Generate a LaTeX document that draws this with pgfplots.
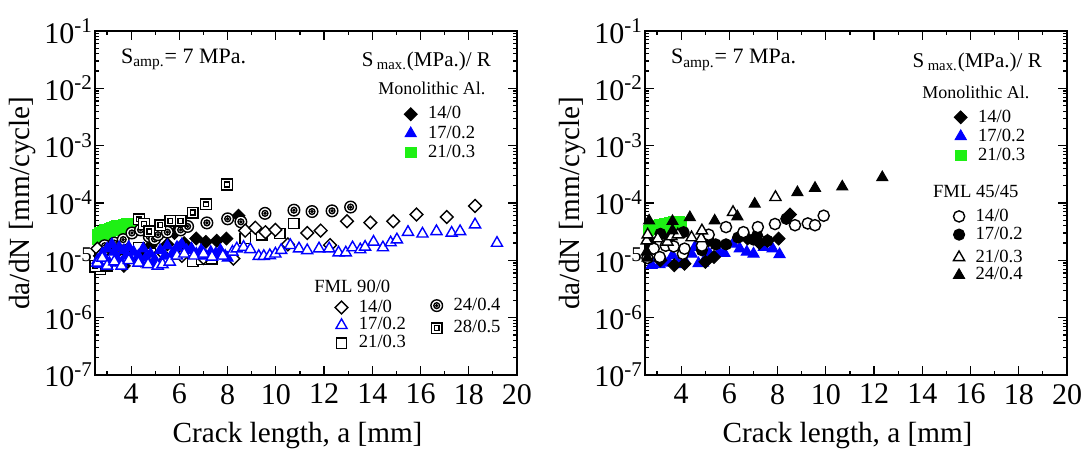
\documentclass[border=0pt]{standalone}
\usepackage{fontspec}
\setmainfont{Liberation Serif}
\usepackage{pgfplots}
\pgfplotsset{compat=1.18}
\definecolor{mgreen}{RGB}{30,240,20}

\pgfdeclareplotmark{dia}{%
 \pgfpathmoveto{\pgfqpoint{0pt}{\pgfplotmarksize}}%
 \pgfpathlineto{\pgfqpoint{\pgfplotmarksize}{0pt}}%
 \pgfpathlineto{\pgfqpoint{0pt}{-\pgfplotmarksize}}%
 \pgfpathlineto{\pgfqpoint{-\pgfplotmarksize}{0pt}}%
 \pgfpathclose\pgfusepathqfillstroke}
\pgfdeclareplotmark{dotcirc}{%
 \pgfpathcircle{\pgfpointorigin}{\pgfplotmarksize}\pgfusepathqfillstroke
 \pgfpathcircle{\pgfpointorigin}{0.5\pgfplotmarksize}\pgfusepathqstroke
 \pgfpathcircle{\pgfpointorigin}{0.15\pgfplotmarksize}\pgfusepathqstroke}
\pgfdeclareplotmark{dotsq}{%
 \pgfpathrectangle{\pgfqpoint{-\pgfplotmarksize}{-\pgfplotmarksize}}{\pgfqpoint{2\pgfplotmarksize}{2\pgfplotmarksize}}\pgfusepathqfillstroke
 \pgfpathrectangle{\pgfqpoint{-0.45\pgfplotmarksize}{-0.45\pgfplotmarksize}}{\pgfqpoint{0.9\pgfplotmarksize}{0.9\pgfplotmarksize}}\pgfusepathqstroke}

\pgfplotsset{
 mono14/.style={only marks, mark=dia, mark size=3.2pt, mark options={line width=0.5pt, draw=black, fill=black}},
 mono17/.style={only marks, mark=triangle*, mark size=3.2pt, mark options={draw=blue, fill=blue, line width=0.5pt}},
 mono21/.style={only marks, mark=square*, mark size=2.6pt, mark options={draw=mgreen, fill=mgreen, line width=0.4pt}},
 fml14/.style={only marks, mark=dia, mark size=3.2pt, mark options={draw=black, fill=white, line width=0.7pt}},
 fml17/.style={only marks, mark=triangle*, mark size=3.2pt, mark options={draw=blue, fill=white, line width=0.7pt}},
 fml21/.style={only marks, mark=square*, mark size=2.6pt, mark options={draw=black, fill=white, line width=0.7pt}},
 fml24/.style={only marks, mark=dotcirc, mark size=2.9pt, mark options={draw=black, fill=white, line width=0.7pt}},
 fml28/.style={only marks, mark=dotsq, mark size=2.7pt, mark options={draw=black, fill=white, line width=0.7pt}},
 c14/.style={only marks, mark=*, mark size=2.8pt, mark options={draw=black, fill=white, line width=0.7pt}},
 c17/.style={only marks, mark=*, mark size=2.8pt, mark options={draw=black, fill=black, line width=0.5pt}},
 t21/.style={only marks, mark=triangle*, mark size=3.2pt, mark options={draw=black, fill=white, line width=0.7pt}},
 t24/.style={only marks, mark=triangle*, mark size=3.2pt, mark options={draw=black, fill=black, line width=0.5pt}},
}

\begin{document}
\begin{tikzpicture}
\useasboundingbox (-47.5pt,-37.5pt) rectangle (498.5pt,187.5pt);

% ================= LEFT PANEL =================
\begin{axis}[at={(0pt,0pt)}, anchor=south west,
  width=211pt, height=172pt, scale only axis,
  xmin=2.5, xmax=20, ymode=log, ymin=1e-7, ymax=1e-1,
  xtick={4,6,...,20}, xticklabels={4,6,8,10,12,14,16,18,20},
  minor xtick={3,5,...,19},
  ytick={1e-7,1e-6,1e-5,1e-4,1e-3,1e-2,1e-1},
  yticklabels={10\textsuperscript{-7},10\textsuperscript{-6},10\textsuperscript{-5},10\textsuperscript{-4},10\textsuperscript{-3},10\textsuperscript{-2},10\textsuperscript{-1}},
  minor ytick={2e-7,3e-7,4e-7,5e-7,6e-7,7e-7,8e-7,9e-7,2e-6,3e-6,4e-6,5e-6,6e-6,7e-6,8e-6,9e-6,2e-5,3e-5,4e-5,5e-5,6e-5,7e-5,8e-5,9e-5,2e-4,3e-4,4e-4,5e-4,6e-4,7e-4,8e-4,9e-4,2e-3,3e-3,4e-3,5e-3,6e-3,7e-3,8e-3,9e-3,2e-2,3e-2,4e-2,5e-2,6e-2,7e-2,8e-2,9e-2},
  xtick pos=both, ytick pos=both, tick align=inside,
  major tick length=4.5pt, minor tick length=2.2pt,
  tick style={black, line width=0.6pt},
  axis line style={line width=0.7pt},
  tick label style={font=\fontsize{15}{17}\selectfont},
  xticklabel style={yshift=-1pt},
  yticklabel style={xshift=2.5pt},
  xlabel={Crack length, a [mm]},
  ylabel={da/dN [mm/cycle]},
  xlabel style={font=\fontsize{14.6}{17}\selectfont, at={(axis description cs:0.48,-0.177)}, anchor=center},
  ylabel style={font=\fontsize{14.6}{17}\selectfont, at={(axis description cs:-0.172,0.5)}, anchor=center},
  legend cell align=left,
  legend style={draw=none, fill=none, inner sep=0pt, outer sep=0pt, anchor=north west,
   font=\fontsize{9.3}{10}\selectfont, at={(rel axis cs:0.733,0.785)}, row sep=0.3pt,
   /tikz/every odd column/.append style={column sep=5pt},
   nodes={inner sep=0.5pt, text height=6.5pt, text depth=1.8pt}}]
\addplot[mono21, forget plot] coordinates {
(2.6,2.3e-5)(2.62,2.8e-5)(2.7,3.0e-5)(2.75,2.5e-5)(2.8,3.2e-5)(2.85,2.7e-5)(2.9,3.4e-5)(2.95,2.9e-5)
(3.0,3.5e-5)(3.05,3.1e-5)(3.1,3.6e-5)(3.15,3.2e-5)(3.2,3.8e-5)(3.25,3.4e-5)(3.3,3.9e-5)(3.35,3.5e-5)
(3.4,4.0e-5)(3.45,3.6e-5)(3.5,4.05e-5)(3.55,3.7e-5)(3.6,4.1e-5)(3.65,3.8e-5)(3.7,4.2e-5)(3.75,3.9e-5)
(3.8,4.3e-5)(3.85,4.0e-5)(3.9,4.3e-5)(3.95,4.1e-5)(4.0,4.4e-5)(4.05,4.2e-5)};
\addplot[mono14, forget plot] coordinates {
(2.7,1.2e-5)(2.9,1.5e-5)(3.1,1.2e-5)(3.3,1.6e-5)(3.5,1.0e-5)(3.7,8e-6)(3.9,1.3e-5)(4.2,1.1e-5)
(4.5,1.4e-5)(4.8,1.8e-5)(5.0,1.1e-5)(5.3,1.2e-5)(5.5,1.9e-5)(5.8,3.0e-5)(6.2,2.0e-5)(6.7,2.4e-5)
(7.1,2.1e-5)(7.55,2.2e-5)(7.95,2.4e-5)(8.45,6.0e-5)};
\addplot[fml21, forget plot] coordinates {
(2.51,7.5e-6)(2.73,7.0e-6)(3.0,8e-6)(3.4,1.0e-5)(3.8,1.2e-5)(4.32,1.65e-5)(4.8,1.3e-5)(5.3,1.1e-5)
(6.0,1.3e-5)(6.56,9.7e-6)(6.92,1.04e-5)(7.35,1.07e-5)(8.73,2.4e-5)(9.41,2.8e-5)(10.17,2.95e-5)(10.75,4.4e-5)};
\addplot[fml24, forget plot] coordinates {
(2.9,1.8e-5)(3.3,2.0e-5)(3.67,2.3e-5)(4.03,3.0e-5)(4.39,3.4e-5)(4.75,2.6e-5)(4.97,2.35e-5)(5.11,2.8e-5)
(5.5,3.1e-5)(6.05,3.4e-5)(6.34,3.9e-5)(7.14,4.5e-5)(8.0,5.3e-5)(8.55,4.7e-5)(9.55,6.6e-5)(10.75,7.5e-5)
(11.5,7.1e-5)(12.33,7.3e-5)(13.1,8.5e-5)};
\addplot[fml28, forget plot] coordinates {
(2.51,8e-6)(4.32,5.2e-5)(4.53,4.3e-5)(4.75,3.2e-5)(5.21,4.1e-5)(5.62,4.9e-5)(6.05,4.9e-5)(6.55,6.8e-5)
(7.1,9.5e-5)(7.97,2.1e-4)};
\addplot[fml14, forget plot] coordinates {
(2.6,1.6e-5)(2.8,1.3e-5)(3.2,1.1e-5)(3.6,1.0e-5)(4.0,1.2e-5)(4.4,1.0e-5)(5.0,1.1e-5)(6.1,1.2e-5)
(7.0,1.1e-5)(8.24,1.07e-5)(8.73,3.3e-5)(9.15,3.7e-5)(9.57,3.1e-5)(9.98,3.4e-5)(10.5,1.9e-5)(11.3,3.0e-5)
(11.86,3.3e-5)(12.25,1.85e-5)(12.95,4.8e-5)(13.92,4.55e-5)(14.87,4.8e-5)(15.83,6.3e-5)(17.09,5.7e-5)(18.26,8.9e-5)};
\addplot[mono17, forget plot] coordinates {
(2.6,1.0e-5)(2.7,8.5e-6)(2.8,1.3e-5)(2.9,1.1e-5)(3.0,1.6e-5)(3.1,9e-6)(3.2,1.9e-5)(3.3,1.4e-5)
(3.4,1.1e-5)(3.5,1.7e-5)(3.6,9e-6)(3.7,1.5e-5)(3.8,1.2e-5)(3.9,1.7e-5)(4.0,1.0e-5)(4.1,1.4e-5)
(4.3,1.2e-5)(4.4,9e-6)(4.5,1.6e-5)(4.6,1.1e-5)(4.8,1.3e-5)(4.9,9e-6)(5.0,1.0e-5)(5.2,1.5e-5)
(5.4,1.2e-5)(5.5,1.8e-5)(5.7,1.3e-5)(5.9,1.7e-5)(6.1,1.9e-5)(6.3,1.5e-5)(6.5,1.6e-5)(6.7,1.3e-5)
(6.9,1.5e-5)(7.1,1.2e-5)(7.3,1.4e-5)(7.5,1.3e-5)(7.7,1.5e-5)(7.9,1.2e-5)(8.0,1.1e-5)};
\addplot[fml17, forget plot] coordinates {
(2.6,9e-6)(2.8,1.1e-5)(3.0,8e-6)(3.3,9.5e-6)(3.6,8e-6)(3.9,1.0e-5)(4.3,9e-6)(4.7,8.5e-6)
(5.1,8e-6)(5.3,8.5e-6)(5.6,9.4e-6)(5.9,1.2e-5)(6.2,1.3e-5)(6.6,1.2e-5)(7.0,1.3e-5)(7.35,1.15e-5)
(7.8,1.2e-5)(8.2,1.4e-5)(8.38,1.6e-5)(8.66,1.7e-5)(8.94,1.55e-5)(9.29,1.18e-5)(9.5,1.18e-5)(9.75,1.22e-5)
(9.98,1.3e-5)(10.22,1.5e-5)(10.6,1.83e-5)(10.96,1.6e-5)(11.3,1.49e-5)(11.79,1.6e-5)(12.21,1.6e-5)(12.6,1.36e-5)
(12.9,1.36e-5)(13.18,1.67e-5)(13.5,1.54e-5)(13.7,1.71e-5)(14.05,2.09e-5)(14.44,1.67e-5)(14.76,2.04e-5)(15.02,2.3e-5)
(15.48,3.1e-5)(16.08,2.9e-5)(16.66,3.2e-5)(17.29,3.0e-5)(17.64,3.2e-5)(18.26,4.2e-5)(19.17,2.0e-5)};
\addlegendimage{mono14}\addlegendentry{14/0}
\addlegendimage{mono17}\addlegendentry{17/0.2}
\addlegendimage{mono21}\addlegendentry{21/0.3}
\node[anchor=west, font=\fontsize{11}{13}\selectfont] at (rel axis cs:0.045,0.917) {S\textsubscript{amp.}= 7 MPa.};
\node[anchor=east, font=\fontsize{10.5}{12}\selectfont] at (rel axis cs:0.955,0.912) {S\,\textsubscript{max.}(MPa.)/ R};
\node[anchor=center, font=\fontsize{9}{10}\selectfont] at (rel axis cs:0.798,0.834) {Monolithic Al.};
\node[anchor=west, font=\fontsize{9.3}{10}\selectfont] at (rel axis cs:0.503,0.259) {FML 90/0};
\end{axis}
\begin{axis}[at={(0pt,0pt)}, anchor=south west, width=211pt, height=172pt, scale only axis, hide axis,
  xmin=0, xmax=1, ymin=0, ymax=1, legend cell align=left,
  legend style={draw=none, fill=none, inner sep=0pt, outer sep=0pt, anchor=north west,
   font=\fontsize{9.3}{10}\selectfont, at={(rel axis cs:0.569,0.2233)}, row sep=-0.4pt,
   /tikz/every odd column/.append style={column sep=5pt},
   nodes={inner sep=0.5pt, text height=6.5pt, text depth=1.8pt}}]
\addlegendimage{fml14}\addlegendentry{14/0}
\addlegendimage{fml17}\addlegendentry{17/0.2}
\addlegendimage{fml21}\addlegendentry{21/0.3}
\end{axis}
\begin{axis}[at={(0pt,0pt)}, anchor=south west, width=211pt, height=172pt, scale only axis, hide axis,
  xmin=0, xmax=1, ymin=0, ymax=1, legend cell align=left,
  legend style={draw=none, fill=none, inner sep=0pt, outer sep=0pt, anchor=north west,
   font=\fontsize{9.3}{10}\selectfont, at={(rel axis cs:0.796,0.2287)}, row sep=2pt,
   /tikz/every odd column/.append style={column sep=5pt},
   nodes={inner sep=0.5pt, text height=6.5pt, text depth=1.8pt}}]
\addlegendimage{fml24}\addlegendentry{24/0.4}
\addlegendimage{fml28}\addlegendentry{28/0.5}
\end{axis}

% ================= RIGHT PANEL =================
\begin{axis}[at={(275pt,0pt)}, anchor=south west,
  width=211pt, height=172pt, scale only axis,
  xmin=2.5, xmax=20, ymode=log, ymin=1e-7, ymax=1e-1,
  xtick={4,6,...,20}, xticklabels={4,6,8,10,12,14,16,18,20},
  minor xtick={3,5,...,19},
  ytick={1e-7,1e-6,1e-5,1e-4,1e-3,1e-2,1e-1},
  yticklabels={10\textsuperscript{-7},10\textsuperscript{-6},10\textsuperscript{-5},10\textsuperscript{-4},10\textsuperscript{-3},10\textsuperscript{-2},10\textsuperscript{-1}},
  minor ytick={2e-7,3e-7,4e-7,5e-7,6e-7,7e-7,8e-7,9e-7,2e-6,3e-6,4e-6,5e-6,6e-6,7e-6,8e-6,9e-6,2e-5,3e-5,4e-5,5e-5,6e-5,7e-5,8e-5,9e-5,2e-4,3e-4,4e-4,5e-4,6e-4,7e-4,8e-4,9e-4,2e-3,3e-3,4e-3,5e-3,6e-3,7e-3,8e-3,9e-3,2e-2,3e-2,4e-2,5e-2,6e-2,7e-2,8e-2,9e-2},
  xtick pos=both, ytick pos=both, tick align=inside,
  major tick length=4.5pt, minor tick length=2.2pt,
  tick style={black, line width=0.6pt},
  axis line style={line width=0.7pt},
  tick label style={font=\fontsize{15}{17}\selectfont},
  xticklabel style={yshift=-1pt},
  yticklabel style={xshift=2.5pt},
  xlabel={Crack length, a [mm]},
  ylabel={da/dN [mm/cycle]},
  xlabel style={font=\fontsize{14.6}{17}\selectfont, at={(axis description cs:0.48,-0.177)}, anchor=center},
  ylabel style={font=\fontsize{14.6}{17}\selectfont, at={(axis description cs:-0.172,0.5)}, anchor=center},
  legend cell align=left,
  legend style={draw=none, fill=none, inner sep=0pt, outer sep=0pt, anchor=north west,
   font=\fontsize{9.3}{10}\selectfont, at={(rel axis cs:0.733,0.776)}, row sep=0.2pt,
   /tikz/every odd column/.append style={column sep=5pt},
   nodes={inner sep=0.5pt, text height=6.5pt, text depth=1.8pt}}]
\addplot[mono21, forget plot] coordinates {
(2.65,3.3e-5)(2.7,3.8e-5)(2.8,3.5e-5)(2.9,4.0e-5)(3.0,3.6e-5)(3.1,4.2e-5)(3.2,3.8e-5)(3.3,4.4e-5)
(3.4,4.0e-5)(3.5,4.6e-5)(3.6,4.2e-5)(3.7,4.7e-5)(3.8,4.4e-5)(3.9,4.8e-5)(4.0,4.5e-5)};
\addplot[mono17, forget plot] coordinates {
(2.78,8.2e-6)(3.0,1.07e-5)(3.28,1.0e-5)(3.64,1.22e-5)(3.86,8.8e-6)(4.14,1.0e-5)(4.43,1.3e-5)(4.57,1.7e-5)
(4.72,8.8e-6)(5.14,1.3e-5)(5.22,1.22e-5)(5.57,1.4e-5)(5.79,1.34e-5)(6.15,1.94e-5)(6.43,1.6e-5)(6.72,1.4e-5)
(7.0,1.3e-5)(7.43,1.7e-5)(7.79,1.6e-5)(8.08,1.27e-5)(3.1,8.5e-6)(3.5,9e-6)(4.0,8.5e-6)(4.9,9e-6)};
\addplot[mono14, forget plot] coordinates {
(3.14,1.0e-5)(3.71,8.2e-6)(4.14,8.7e-6)(5.0,9.4e-6)(5.36,1.14e-5)(6.75,2.4e-5)(7.25,2.0e-5)(7.58,2.2e-5)
(8.04,2.4e-5)(8.51,6.3e-5)};
\addplot[c17, forget plot] coordinates {
(2.71,2.0e-5)(3.14,2.9e-5)(3.5,2.4e-5)(4.1,3.1e-5)(4.86,1.5e-5)(5.14,2.2e-5)(5.43,1.9e-5)(5.86,1.9e-5)
(6.36,2.5e-5)(7.0,2.3e-5)(7.15,2.7e-5)(7.58,2.2e-5)(8.36,5.3e-5)};
\addplot[c14, forget plot] coordinates {
(2.6,1.1e-5)(2.86,1.6e-5)(3.11,1.14e-5)(3.36,1.8e-5)(3.69,1.75e-5)(4.07,1.3e-5)(4.14,1.6e-5)(4.86,1.8e-5)
(5.14,2.8e-5)(5.86,3.8e-5)(6.58,3.1e-5)(7.18,3.8e-5)(7.89,4.3e-5)(8.72,4.1e-5)(9.25,4.4e-5)(9.55,4.1e-5)(9.91,6.0e-5)};
\addplot[t21, forget plot] coordinates {
(2.57,2.2e-5)(2.61,2.8e-5)(3.03,2.4e-5)(3.43,2.1e-5)(3.6,2.6e-5)(3.86,2.8e-5)(4.43,2.5e-5)(4.83,2.4e-5)
(4.86,3.3e-5)(6.15,6.9e-5)(7.91,1.26e-4)};
\addplot[t24, forget plot] coordinates {
(2.57,1.4e-5)(2.6,1.1e-5)(2.67,4.9e-5)(3.64,4.8e-5)(3.64,3.3e-5)(4.36,5.6e-5)(5.39,4.9e-5)(6.33,5.8e-5)
(7.05,9.6e-5)(8.82,1.53e-4)(9.55,1.82e-4)(10.68,1.92e-4)(12.34,2.79e-4)};
\addlegendimage{mono14}\addlegendentry{14/0}
\addlegendimage{mono17}\addlegendentry{17/0.2}
\addlegendimage{mono21}\addlegendentry{21/0.3}
\node[anchor=west, font=\fontsize{11}{13}\selectfont] at (rel axis cs:0.045,0.916) {S\textsubscript{amp.}= 7 MPa.};
\node[anchor=east, font=\fontsize{10.5}{12}\selectfont] at (rel axis cs:0.957,0.91) {S\,\textsubscript{max.}(MPa.)/ R};
\node[anchor=center, font=\fontsize{9}{10}\selectfont] at (rel axis cs:0.784,0.822) {Monolithic Al.};
\node[anchor=west, font=\fontsize{9.3}{10}\selectfont] at (rel axis cs:0.666,0.533) {FML 45/45};
\end{axis}
\begin{axis}[at={(275pt,0pt)}, anchor=south west, width=211pt, height=172pt, scale only axis, hide axis,
  xmin=0, xmax=1, ymin=0, ymax=1, legend cell align=left,
  legend style={draw=none, fill=none, inner sep=0pt, outer sep=0pt, anchor=north west,
   font=\fontsize{9.3}{10}\selectfont, at={(rel axis cs:0.731,0.488)}, row sep=-0.2pt,
   /tikz/every odd column/.append style={column sep=5pt},
   nodes={inner sep=0.5pt, text height=6.5pt, text depth=1.8pt}}]
\addlegendimage{c14}\addlegendentry{14/0}
\addlegendimage{c17}\addlegendentry{17/0.2}
\end{axis}
\begin{axis}[at={(275pt,0pt)}, anchor=south west, width=211pt, height=172pt, scale only axis, hide axis,
  xmin=0, xmax=1, ymin=0, ymax=1, legend cell align=left,
  legend style={draw=none, fill=none, inner sep=0pt, outer sep=0pt, anchor=north west,
   font=\fontsize{9.3}{10}\selectfont, at={(rel axis cs:0.731,0.369)}, row sep=-0.4pt,
   /tikz/every odd column/.append style={column sep=5pt},
   nodes={inner sep=0.5pt, text height=6.5pt, text depth=1.8pt}}]
\addlegendimage{t21}\addlegendentry{21/0.3}
\addlegendimage{t24}\addlegendentry{24/0.4}
\end{axis}
\end{tikzpicture}
\end{document}
